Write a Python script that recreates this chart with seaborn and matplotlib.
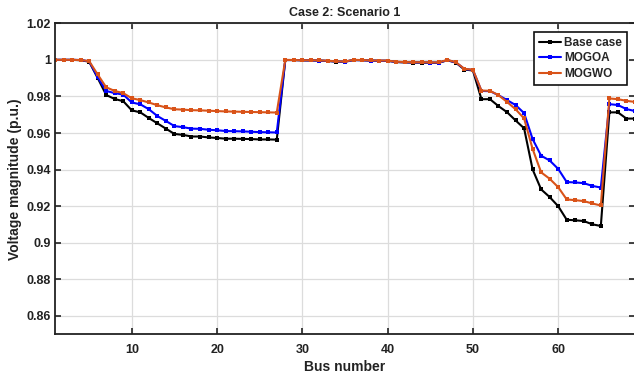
import matplotlib
matplotlib.use("Agg")
import matplotlib.pyplot as plt
import seaborn as sns
import pandas as pd

# Bus voltage profile of the 69-bus feeder
buses = list(range(1, 70))

base_case = [
    1.0000, 1.0000, 1.0000, 0.9998, 0.9990, 0.9901, 0.9808, 0.9786, 0.9774, 0.9724,
    0.9713, 0.9682, 0.9653, 0.9624, 0.9595, 0.9590, 0.9581, 0.9581, 0.9576, 0.9573,
    0.9569, 0.9569, 0.9568, 0.9567, 0.9565, 0.9565, 0.9564,
    0.9999, 0.9999, 0.9997, 0.9997, 0.9996, 0.9994, 0.9990, 0.9990, 0.9999, 0.9998,
    0.9996, 0.9995, 0.9995, 0.9988, 0.9986, 0.9985, 0.9985, 0.9984, 0.9984, 0.9998,
    0.9985, 0.9947, 0.9942,
    0.9785, 0.9785, 0.9747, 0.9714, 0.9669, 0.9626, 0.9401, 0.9292, 0.9250, 0.9200,
    0.9126, 0.9123, 0.9119, 0.9101, 0.9092, 0.9713, 0.9713, 0.9679, 0.9679,
]

mogoa = [
    1.0000, 1.0000, 1.0000, 0.9999, 0.9992, 0.9905, 0.9830, 0.9818, 0.9810, 0.9767,
    0.9757, 0.9730, 0.9693, 0.9666, 0.9638, 0.9632, 0.9624, 0.9623, 0.9618, 0.9615,
    0.9611, 0.9610, 0.9609, 0.9607, 0.9605, 0.9604, 0.9603,
    0.9999, 0.9999, 0.9998, 0.9997, 0.9996, 0.9994, 0.9991, 0.9990, 0.9999, 0.9998,
    0.9996, 0.9995, 0.9995, 0.9989, 0.9987, 0.9986, 0.9986, 0.9985, 0.9985, 0.9998,
    0.9986, 0.9950, 0.9945,
    0.9830, 0.9829, 0.9807, 0.9780, 0.9753, 0.9709, 0.9567, 0.9476, 0.9450, 0.9404,
    0.9332, 0.9330, 0.9326, 0.9311, 0.9302, 0.9758, 0.9753, 0.9731, 0.9720,
]

mogwo = [
    1.0000, 1.0000, 1.0000, 0.9999, 0.9993, 0.9920, 0.9850, 0.9830, 0.9818, 0.9790,
    0.9780, 0.9767, 0.9752, 0.9740, 0.9730, 0.9728, 0.9725, 0.9724, 0.9722, 0.9720,
    0.9718, 0.9717, 0.9716, 0.9715, 0.9714, 0.9713, 0.9712,
    1.0000, 0.9999, 0.9998, 0.9998, 0.9997, 0.9995, 0.9992, 0.9991, 1.0000, 0.9999,
    0.9997, 0.9996, 0.9996, 0.9990, 0.9988, 0.9987, 0.9987, 0.9986, 0.9986, 1.0000,
    0.9987, 0.9951, 0.9946,
    0.9832, 0.9831, 0.9807, 0.9770, 0.9730, 0.9680, 0.9513, 0.9385, 0.9350, 0.9304,
    0.9237, 0.9233, 0.9228, 0.9215, 0.9204, 0.9789, 0.9785, 0.9776, 0.9770,
]

series_names = ["Base case", "MOGOA", "MOGWO"]
series_colors = ["#000000", "#0000FF", "#D95319"]
x_ticks = [10, 20, 30, 40, 50, 60]
y_ticks = [0.86, 0.88, 0.90, 0.92, 0.94, 0.96, 0.98, 1.00, 1.02]
y_tick_labels = ["0.86", "0.88", "0.9", "0.92", "0.94", "0.96", "0.98", "1", "1.02"]

sns.set_theme(style="ticks")
plt.rcParams["font.family"] = ["Liberation Sans", "DejaVu Sans"]
plt.rcParams["font.weight"] = "bold"

df = pd.DataFrame({
    "bus": buses * 3,
    "voltage": base_case + mogoa + mogwo,
    "method": [series_names[0]] * 69 + [series_names[1]] * 69 + [series_names[2]] * 69,
})

fig = plt.figure(figsize=(6.34, 3.77), dpi=100)
ax = fig.add_axes([0.0868, 0.1133, 0.9147, 0.825])

sns.lineplot(
    data=df, x="bus", y="voltage", hue="method",
    palette=dict(zip(series_names, series_colors)),
    hue_order=series_names,
    marker="s", markersize=3, markeredgewidth=0,
    linewidth=1.5, ax=ax, legend=True,
)

ax.set_xlim(1, 69)
ax.set_ylim(0.85, 1.02)
ax.set_xticks(x_ticks)
ax.set_xticklabels([str(t) for t in x_ticks])
ax.set_yticks(y_ticks)
ax.set_yticklabels(y_tick_labels)

ax.grid(True, color="#dcdcdc", linewidth=0.9)
ax.set_axisbelow(True)
for side in ["left", "bottom", "top", "right"]:
    ax.spines[side].set_visible(True)
    ax.spines[side].set_color("#222222")
    ax.spines[side].set_linewidth(1.3)

ax.tick_params(axis="both", which="both", direction="in", length=4, width=1.2,
               labelsize=9, colors="#222222", top=True, right=True)
ax.tick_params(axis="x", pad=7)
ax.tick_params(axis="y", pad=3)
for lab in ax.get_xticklabels() + ax.get_yticklabels():
    lab.set_fontweight("bold")

ax.set_xlabel("Bus number", fontsize=10, fontweight="bold", color="#222222", labelpad=3)
ax.set_ylabel("Voltage magnitude (p.u.)", fontsize=10, fontweight="bold", color="#222222", labelpad=3)
ax.set_title("Case 2: Scenario 1", fontsize=9, fontweight="bold", color="#222222", pad=5)

handles, labels = ax.get_legend_handles_labels()
leg = ax.legend(
    handles, labels, loc="upper right",
    bbox_to_anchor=(627 / 634, 1 - 32 / 377), bbox_transform=fig.transFigure,
    borderaxespad=0, fancybox=False, framealpha=1, edgecolor="#111111",
    prop={"size": 8.5, "weight": "bold"}, handlelength=1.9, handletextpad=0.25,
    labelspacing=0.3, borderpad=0.4,
)
leg.get_frame().set_linewidth(1.2)

fig.savefig("out.png", dpi=100)
